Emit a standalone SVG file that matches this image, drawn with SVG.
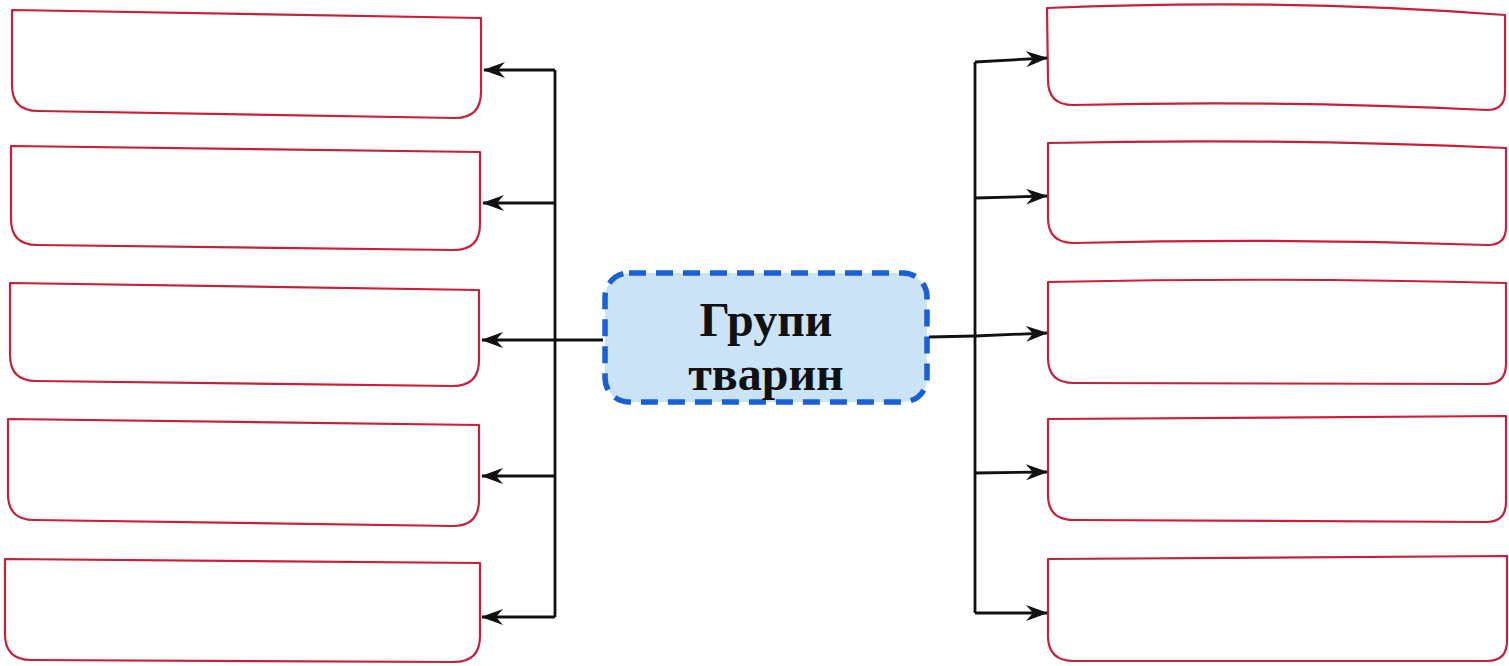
<svg xmlns="http://www.w3.org/2000/svg" width="1509" height="666" viewBox="0 0 1509 666">
<defs>
<marker id="ah" viewBox="0 0 22 16" refX="21" refY="8" markerWidth="22" markerHeight="16" markerUnits="userSpaceOnUse" orient="auto">
<path d="M0,0 L22,8 L0,16 L7,8 Z" fill="#111"/>
</marker>
</defs>
<style>
.box{fill:#fff;stroke:#c8203a;stroke-width:2.2;stroke-linejoin:round}
.con{fill:none;stroke:#111;stroke-width:2.8}
.arr{fill:none;stroke:#111;stroke-width:2.8;marker-end:url(#ah)}
.lbl{font-family:"Liberation Serif","DejaVu Serif",serif;font-weight:bold;font-size:48px;fill:#111;text-anchor:middle}
</style>
<rect width="1509" height="666" fill="#fff"/>
<g id="left1"><path class="box" d="M12,10 L481,18 L481,92 Q481,118 455,118 L38,111 Q12,111 12,85 Z"/></g>
<g id="left2"><path class="box" d="M11,146 L480,152 L480,224 Q480,250 454,250 L37,245 Q11,245 11,219 Z"/></g>
<g id="left3"><path class="box" d="M10,283 L479,290 L479,360 Q479,386 453,386 L36,381 Q10,381 10,355 Z"/></g>
<g id="left4"><path class="box" d="M8,419 L479,425 L479,500 Q479,526 453,526 L34,520 Q8,520 8,494 Z"/></g>
<g id="left5"><path class="box" d="M5,559 L480,563 L480,636 Q480,662 454,662 L31,660 Q5,660 5,634 Z"/></g>
<g id="right1"><path class="box" d="M1047,8 Q1280,-2 1505,15 L1505,92 Q1505,110 1487,110 Q1280,100 1073,105 Q1048,105 1048,80 Z"/></g>
<g id="right2"><path class="box" d="M1048,143 Q1280,138 1506,148 L1506,227 Q1506,245 1488,245 Q1280,238 1074,243 Q1048,243 1048,218 Z"/></g>
<g id="right3"><path class="box" d="M1048,282 Q1280,277 1506,283 L1506,364 Q1506,384 1486,384 L1074,383 Q1048,383 1048,358 Z"/></g>
<g id="right4"><path class="box" d="M1048,419 L1506,416 L1506,502 Q1506,522 1486,522 L1074,520 Q1048,520 1048,495 Z"/></g>
<g id="right5"><path class="box" d="M1048,559 L1507,556 L1507,641 Q1507,661 1487,661 L1074,661 Q1048,661 1048,636 Z"/></g>
<g id="center">
<rect x="605" y="273" width="322" height="129" rx="24" fill="#cbe3f6" stroke="#1a5fd6" stroke-width="5.5" stroke-dasharray="17,10"/>
<text class="lbl" x="766" y="336">Групи</text>
<text class="lbl" x="766" y="390">тварин</text>
</g>
<g id="connectors">
<path class="con" d="M603,340 L555,340"/>
<path class="con" d="M555,70 L555,617"/>
<path class="arr" d="M555,70 L484,70"/>
<path class="arr" d="M555,203 L483,203"/>
<path class="arr" d="M555,340 L482,340"/>
<path class="arr" d="M555,476 L482,476"/>
<path class="arr" d="M555,617 L482,617"/>
<path class="con" d="M929,337 L975,336"/>
<path class="con" d="M975,62 L975,613"/>
<path class="arr" d="M975,62 L1047,58"/>
<path class="arr" d="M975,198 L1047,196"/>
<path class="arr" d="M975,336 L1047,333"/>
<path class="arr" d="M975,473 L1047,472"/>
<path class="arr" d="M975,613 L1047,613"/>
</g>
</svg>
